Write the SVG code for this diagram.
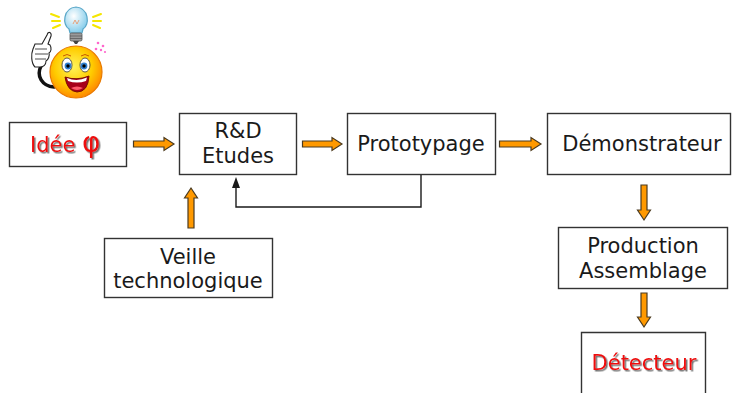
<svg xmlns="http://www.w3.org/2000/svg" width="733" height="393" viewBox="0 0 733 393">
  <defs>
    <style>
      .box { fill: #ffffff; stroke: #333333; stroke-width: 1.4; }
      .lbl { font-family: "DejaVu Sans", Verdana, sans-serif; font-size: 21px; fill: #1a1a1a; text-anchor: middle; }
      .red { fill: #ee1111; filter: url(#shadow); }
      .blk { fill: #ff9900; stroke: #4a3a20; stroke-width: 1.2; stroke-linejoin: miter; }
      .link { fill: none; stroke: #1a1a1a; stroke-width: 1.4; }
    </style>
    <filter id="shadow" x="-10%" y="-20%" width="130%" height="150%">
      <feDropShadow dx="1.5" dy="1.5" stdDeviation="0.6" flood-color="#666666" flood-opacity="0.9"/>
    </filter>
    <radialGradient id="faceGrad" cx="0.45" cy="0.4" r="0.6">
      <stop offset="0" stop-color="#fff35a"/>
      <stop offset="0.6" stop-color="#ffcc00"/>
      <stop offset="1" stop-color="#ff8a00"/>
    </radialGradient>
    <radialGradient id="glassGrad" cx="0.4" cy="0.35" r="0.65">
      <stop offset="0" stop-color="#ffffff"/>
      <stop offset="1" stop-color="#86cdeb"/>
    </radialGradient>
  </defs>

  <!-- idea mascot: bulb, pointing hand and smiling face -->
  <g id="mascot">
    <g stroke="#f5e600" stroke-width="2" stroke-linecap="round">
      <line x1="51" y1="14" x2="59" y2="17"/>
      <line x1="52" y1="21" x2="60" y2="21"/>
      <line x1="53" y1="28" x2="60" y2="25"/>
      <line x1="93" y1="17" x2="101" y2="14"/>
      <line x1="93" y1="21" x2="101" y2="21"/>
      <line x1="93" y1="25" x2="100" y2="28"/>
    </g>
    <path d="M69,29 C62,25 63,8 76,7 C89,8 90,25 83,29 L82,33 L70,33 Z" fill="url(#glassGrad)" stroke="#5aa7c8" stroke-width="1.2"/>
    <path d="M73,24 L75,20 L77,24 L79,20" fill="none" stroke="#e89060" stroke-width="0.8"/>
    <rect x="70" y="33" width="12" height="8" rx="1.5" fill="#9a9a9a" stroke="#555555" stroke-width="0.8"/>
    <line x1="70" y1="36" x2="82" y2="36" stroke="#555555" stroke-width="0.7"/>
    <line x1="70" y1="38.5" x2="82" y2="38.5" stroke="#555555" stroke-width="0.7"/>
    <path d="M73,41 L79,41 L77,44 L75,44 Z" fill="#444444"/>
    <g fill="#ff66cc">
      <circle cx="98" cy="43" r="1.3"/>
      <circle cx="103" cy="46" r="1.3"/>
      <circle cx="96" cy="49" r="1.3"/>
      <circle cx="101" cy="50" r="1.2"/>
      <circle cx="105" cy="52" r="1.1"/>
    </g>
    <path d="M41,66 C36,76 42,86 54,87" fill="none" stroke="#111111" stroke-width="3.5" stroke-linecap="round"/>
    <circle cx="76" cy="72" r="26" fill="url(#faceGrad)" stroke="#e87a00" stroke-width="1.2"/>
    <path d="M33,49 L35,44 L42,44 L47,35 C48,31 52,32 51,36 L48,44 L50,45 C52,48 51,52 49,53 C50,56 48,60 46,61 C46,65 43,67 40,67 L35,67 C31,63 31,54 33,49 Z" fill="#ffffff" stroke="#222222" stroke-width="1.1"/>
    <path d="M35,49 L47,49 M35,54 L48,54 M35,59 L46,59" fill="none" stroke="#222222" stroke-width="0.8"/>
    <ellipse cx="67" cy="65" rx="5" ry="7" fill="#ffffff" stroke="#333333" stroke-width="0.8"/>
    <ellipse cx="85" cy="65" rx="5" ry="7" fill="#ffffff" stroke="#333333" stroke-width="0.8"/>
    <circle cx="68" cy="66" r="3.4" fill="#2f7fd0"/>
    <circle cx="84" cy="66" r="3.4" fill="#2f7fd0"/>
    <circle cx="68" cy="66" r="1.7" fill="#000000"/>
    <circle cx="84" cy="66" r="1.7" fill="#000000"/>
    <path d="M63,56 Q67,53 71,56 M81,56 Q85,53 89,56" fill="none" stroke="#c85a00" stroke-width="1"/>
    <path d="M65,77 Q77,81 89,76 Q88,92 77,92 Q67,91 65,77 Z" fill="#a8001a" stroke="#7a1000" stroke-width="1"/>
    <path d="M67,78 Q77,82 87,77.5 L86,81 Q77,84 68,81 Z" fill="#ffffff"/>
    <path d="M71,88 Q77,85 83,88 Q77,92 71,88 Z" fill="#ff5a6a"/>
  </g>

  <!-- process boxes -->
  <g id="idee">
    <rect class="box" x="9.5" y="122.5" width="117" height="44"/>
    <text class="lbl red" x="30" y="152" style="text-anchor:start">Idée <tspan font-size="28px">φ</tspan></text>
  </g>
  <g id="rd">
    <rect class="box" x="179.5" y="113.5" width="117" height="61"/>
    <text class="lbl" x="238" y="138">R&amp;D</text>
    <text class="lbl" x="238" y="163">Etudes</text>
  </g>
  <g id="prototypage">
    <rect class="box" x="347.5" y="113.5" width="148" height="61"/>
    <text class="lbl" x="421" y="151">Prototypage</text>
  </g>
  <g id="demonstrateur">
    <rect class="box" x="547.5" y="113.5" width="183" height="61"/>
    <text class="lbl" x="642" y="151">Démonstrateur</text>
  </g>
  <g id="veille">
    <rect class="box" x="104.5" y="238.5" width="168" height="59"/>
    <text class="lbl" x="188" y="264">Veille</text>
    <text class="lbl" x="188" y="288">technologique</text>
  </g>
  <g id="production">
    <rect class="box" x="558.5" y="227.5" width="169" height="61"/>
    <text class="lbl" x="643" y="253">Production</text>
    <text class="lbl" x="643" y="278">Assemblage</text>
  </g>
  <g id="detecteur">
    <path class="box" d="M581.5,395 V332.5 H705.5 V395"/>
    <text class="lbl red" x="644" y="370">Détecteur</text>
  </g>

  <!-- connectors -->
  <g id="connectors">
    <path class="blk" d="M133.5,141 H164 V137.5 L174,144 L164,150.5 V147 H133.5 Z"/>
    <path class="blk" d="M302.5,141 H332 V137.5 L342,144 L332,150.5 V147 H302.5 Z"/>
    <path class="blk" d="M499.5,141 H531 V137.5 L541,144 L531,150.5 V147 H499.5 Z"/>
    <path class="blk" d="M188,228 V198 H184.5 L191,188 L197.5,198 H194 V228 Z"/>
    <path class="blk" d="M641,185 V210 H637.5 L644,220 L650.5,210 H647 V185 Z"/>
    <path class="blk" d="M641,293 V317 H637.5 L644,327 L650.5,317 H647 V293 Z"/>
    <path class="link" d="M421,175 V207 H236 V188"/>
    <path d="M232,188 L236,177 L240,188 Z" fill="#1a1a1a"/>
  </g>
</svg>
